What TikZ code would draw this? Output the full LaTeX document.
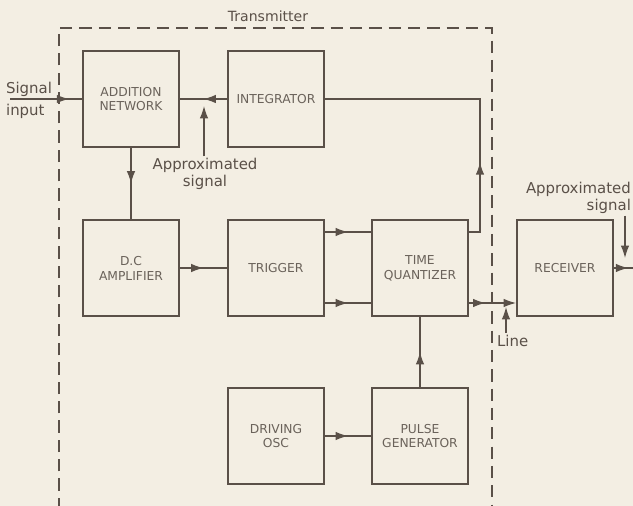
\documentclass[tikz,border=0pt]{standalone}
\usepackage{fontspec}
\setmainfont{DejaVu Sans}
\usetikzlibrary{arrows.meta,decorations.markings}
\definecolor{paper}{HTML}{F3EEE3}
\definecolor{ink}{HTML}{5A5048}
\definecolor{inktext}{HTML}{6A625A}
\begin{document}
\begin{tikzpicture}[x=0.02cm,y=-0.02cm,
  block/.style={draw=ink,line width=1.1pt,minimum width=1.92cm,minimum height=1.92cm,
    align=center,font=\fontsize{7}{8.5}\selectfont,text=inktext},
  lbl/.style={font=\fontsize{8.5}{9.5}\selectfont,text=ink,align=center,inner sep=1pt},
  wire/.style={draw=ink,color=ink,line width=0.7pt},
  tip/.style={-{Latex[length=7pt,width=4.8pt]}},
  midarrow/.style={postaction={decorate},decoration={markings,
    mark=at position #1 with {\arrow{Latex[length=7pt,width=4.8pt]}}}},
  midarrow/.default=0.5]
  \fill[paper] (0,0) rectangle (633,506);
  \useasboundingbox (0,0) rectangle (633,506);
  % transmitter outline
  \draw[ink,line width=0.8pt,dash pattern=on 7pt off 4pt] (59,510) -- (59,28) -- (492,28) -- (492,510);
  \node[lbl,font=\fontsize{8}{9}\selectfont] (tx) at (268,16) {Transmitter};
  % blocks
  \node[block] (add) at (131,99) {ADDITION\\NETWORK};
  \node[block] (int) at (276,99) {INTEGRATOR};
  \node[block] (dc) at (131,268) {D.C\\AMPLIFIER};
  \node[block] (trig) at (276,268) {TRIGGER};
  \node[block] (tq) at (420,268) {TIME\\QUANTIZER};
  \node[block] (rec) at (565,268) {RECEIVER};
  \node[block] (osc) at (276,436) {DRIVING\\OSC};
  \node[block] (pulse) at (420,436) {PULSE\\GENERATOR};
  % labels
  \node[lbl,align=left,anchor=west] (sig) at (4,100) {Signal\\[3pt]input};
  \node[lbl] (aplbl) at (205,174) {Approximated\\signal};
  \node[lbl,align=right,anchor=east] (aprlbl) at (633,198) {Approximated\\signal};
  \node[lbl,anchor=west] (linelbl) at (495,341) {Line};
  % helper points
  \coordinate (sigin) at (10,99);
  \coordinate (aptip) at (204,106);
  \coordinate (up) at (0,232);
  \coordinate (lo) at (0,303);
  \coordinate (fbx) at (480,0);
  \coordinate (linetip) at (506,307);
  \coordinate (recout) at (633,268);
  \coordinate (rectip) at (625,258);
  % connections
  \draw[wire,midarrow=0.82] (sigin) -- (add.west);
  \draw[wire,midarrow] (int.west) -- (add.east);
  \draw[wire,tip] (aplbl.north -| aptip) -- (aptip);
  \draw[wire,midarrow] (add.south) -- (dc.north);
  \draw[wire,midarrow] (dc.east) -- (trig.west);
  \draw[wire,midarrow] (trig.east |- up) -- (tq.west |- up);
  \draw[wire,midarrow] (trig.east |- lo) -- (tq.west |- lo);
  \draw[wire,midarrow=0.27] (tq.east |- up) -| (fbx |- int.east) -- (int.east);
  \draw[wire,tip,midarrow=0.35] (tq.east |- lo) -- (rec.west |- lo);
  \draw[wire,tip] (linelbl.north -| linetip) -- (linetip);
  \draw[wire,midarrow] (pulse.north) -- (tq.south);
  \draw[wire,midarrow] (osc.east) -- (pulse.west);
  \draw[wire,midarrow=0.75] (rec.east) -- (recout);
  \draw[wire,tip] (aprlbl.south -| rectip) -- (rectip);
\end{tikzpicture}
\end{document}
